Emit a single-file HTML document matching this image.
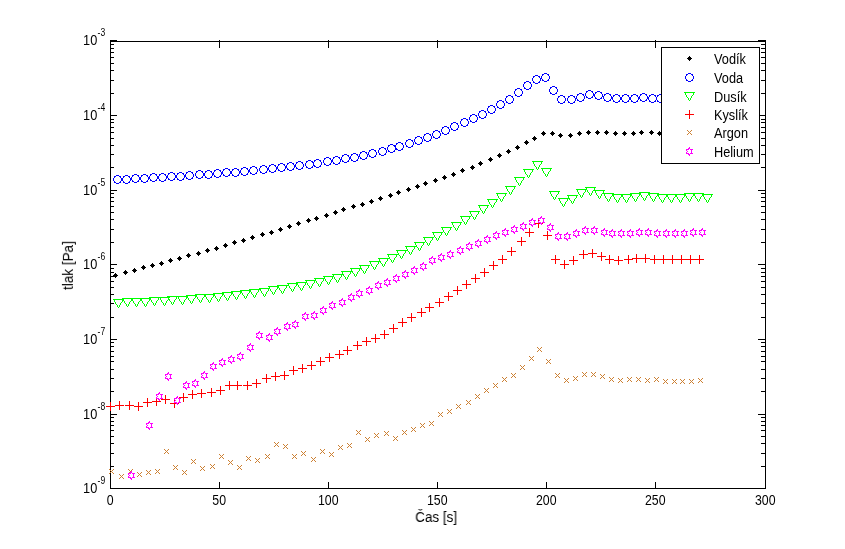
<!DOCTYPE html>
<html><head><meta charset="utf-8"><title>tlak</title>
<style>
html,body{margin:0;padding:0;background:#fff;}
body{width:845px;height:549px;overflow:hidden;}
svg{display:block;will-change:transform;}
text{font-family:"Liberation Sans",sans-serif;fill:#000;}
.t{font-size:14.5px;}
.e{font-size:10px;}
</style></head><body>
<svg width="845" height="549" viewBox="0 0 845 549">
<defs>
<path id="mk" d="M0 -2h1v1h-1zM-1 -1h3v1h-3zM-2 0h5v1h-5zM-1 1h3v1h-3zM0 2h1v1h-1z" fill="#000000"/>
<path id="mb" d="M-1 -4h3v1h-3zM-3 -3h2v1h-2zM2 -3h2v1h-2zM-3 -2h1v1h-1zM3 -2h1v1h-1zM-4 -1h1v1h-1zM4 -1h1v1h-1zM-4 0h1v1h-1zM4 0h1v1h-1zM-4 1h1v1h-1zM4 1h1v1h-1zM-3 2h1v1h-1zM3 2h1v1h-1zM-3 3h2v1h-2zM2 3h2v1h-2zM-1 4h3v1h-3z" fill="#0000ff"/>
<path id="mg" d="M-5 -4h11v1h-11zM-4 -3h1v1h-1zM4 -3h1v1h-1zM-4 -2h1v1h-1zM4 -2h1v1h-1zM-3 -1h1v1h-1zM3 -1h1v1h-1zM-3 0h1v1h-1zM2 0h1v1h-1zM-2 1h1v1h-1zM2 1h1v1h-1zM-1 2h1v1h-1zM1 2h1v1h-1zM-1 3h1v1h-1zM1 3h1v1h-1zM0 4h1v1h-1z" fill="#00ff00"/>
<path id="mr" d="M0 -4h1v1h-1zM0 -3h1v1h-1zM0 -2h1v1h-1zM0 -1h1v1h-1zM-4 0h9v1h-9zM0 1h1v1h-1zM0 2h1v1h-1zM0 3h1v1h-1zM0 4h1v1h-1z" fill="#ff0000"/>
<path id="ma" d="M-2 -2h1v1h-1zM2 -2h1v1h-1zM-1 -1h1v1h-1zM1 -1h1v1h-1zM0 0h1v1h-1zM-1 1h1v1h-1zM1 1h1v1h-1zM-2 2h1v1h-1zM2 2h1v1h-1z" fill="#cc8033"/>
<path id="mm" d="M0 -4h1v1h-1zM-1 -3h2v1h-2zM-3 -2h3v1h-3zM1 -2h3v1h-3zM-3 -1h1v1h-1zM2 -1h1v1h-1zM-2 0h1v1h-1zM2 0h1v1h-1zM-3 1h1v1h-1zM2 1h1v1h-1zM-3 2h3v1h-3zM1 2h3v1h-3zM-1 3h2v1h-2zM0 4h1v1h-1z" fill="#ff00ff"/>
</defs>
<rect x="0" y="0" width="845" height="549" fill="#fff"/>
<g fill="#000" shape-rendering="crispEdges"><rect x="110" y="41" width="656" height="1"/><rect x="110" y="488" width="656" height="1"/><rect x="110" y="41" width="1" height="448"/><rect x="765" y="41" width="1" height="448"/><rect x="110" y="482" width="1" height="6"/><rect x="110" y="40" width="1" height="8"/><rect x="219" y="482" width="1" height="6"/><rect x="219" y="40" width="1" height="8"/><rect x="328" y="482" width="1" height="6"/><rect x="328" y="40" width="1" height="8"/><rect x="437" y="482" width="1" height="6"/><rect x="437" y="40" width="1" height="8"/><rect x="546" y="482" width="1" height="6"/><rect x="546" y="40" width="1" height="8"/><rect x="655" y="482" width="1" height="6"/><rect x="655" y="40" width="1" height="8"/><rect x="765" y="482" width="1" height="6"/><rect x="765" y="40" width="1" height="8"/><rect x="110" y="40" width="7" height="1"/><rect x="758" y="40" width="8" height="1"/><rect x="110" y="93" width="4" height="1"/><rect x="761" y="93" width="5" height="1"/><rect x="110" y="80" width="4" height="1"/><rect x="761" y="80" width="5" height="1"/><rect x="110" y="70" width="4" height="1"/><rect x="761" y="70" width="5" height="1"/><rect x="110" y="63" width="4" height="1"/><rect x="761" y="63" width="5" height="1"/><rect x="110" y="57" width="4" height="1"/><rect x="761" y="57" width="5" height="1"/><rect x="110" y="52" width="4" height="1"/><rect x="761" y="52" width="5" height="1"/><rect x="110" y="48" width="4" height="1"/><rect x="761" y="48" width="5" height="1"/><rect x="110" y="44" width="4" height="1"/><rect x="761" y="44" width="5" height="1"/><rect x="110" y="115" width="7" height="1"/><rect x="758" y="115" width="8" height="1"/><rect x="110" y="167" width="4" height="1"/><rect x="761" y="167" width="5" height="1"/><rect x="110" y="154" width="4" height="1"/><rect x="761" y="154" width="5" height="1"/><rect x="110" y="145" width="4" height="1"/><rect x="761" y="145" width="5" height="1"/><rect x="110" y="138" width="4" height="1"/><rect x="761" y="138" width="5" height="1"/><rect x="110" y="132" width="4" height="1"/><rect x="761" y="132" width="5" height="1"/><rect x="110" y="127" width="4" height="1"/><rect x="761" y="127" width="5" height="1"/><rect x="110" y="122" width="4" height="1"/><rect x="761" y="122" width="5" height="1"/><rect x="110" y="119" width="4" height="1"/><rect x="761" y="119" width="5" height="1"/><rect x="110" y="190" width="7" height="1"/><rect x="758" y="190" width="8" height="1"/><rect x="110" y="242" width="4" height="1"/><rect x="761" y="242" width="5" height="1"/><rect x="110" y="229" width="4" height="1"/><rect x="761" y="229" width="5" height="1"/><rect x="110" y="219" width="4" height="1"/><rect x="761" y="219" width="5" height="1"/><rect x="110" y="212" width="4" height="1"/><rect x="761" y="212" width="5" height="1"/><rect x="110" y="206" width="4" height="1"/><rect x="761" y="206" width="5" height="1"/><rect x="110" y="201" width="4" height="1"/><rect x="761" y="201" width="5" height="1"/><rect x="110" y="197" width="4" height="1"/><rect x="761" y="197" width="5" height="1"/><rect x="110" y="193" width="4" height="1"/><rect x="761" y="193" width="5" height="1"/><rect x="110" y="264" width="7" height="1"/><rect x="758" y="264" width="8" height="1"/><rect x="110" y="317" width="4" height="1"/><rect x="761" y="317" width="5" height="1"/><rect x="110" y="303" width="4" height="1"/><rect x="761" y="303" width="5" height="1"/><rect x="110" y="294" width="4" height="1"/><rect x="761" y="294" width="5" height="1"/><rect x="110" y="287" width="4" height="1"/><rect x="761" y="287" width="5" height="1"/><rect x="110" y="281" width="4" height="1"/><rect x="761" y="281" width="5" height="1"/><rect x="110" y="276" width="4" height="1"/><rect x="761" y="276" width="5" height="1"/><rect x="110" y="272" width="4" height="1"/><rect x="761" y="272" width="5" height="1"/><rect x="110" y="268" width="4" height="1"/><rect x="761" y="268" width="5" height="1"/><rect x="110" y="339" width="7" height="1"/><rect x="758" y="339" width="8" height="1"/><rect x="110" y="391" width="4" height="1"/><rect x="761" y="391" width="5" height="1"/><rect x="110" y="378" width="4" height="1"/><rect x="761" y="378" width="5" height="1"/><rect x="110" y="369" width="4" height="1"/><rect x="761" y="369" width="5" height="1"/><rect x="110" y="361" width="4" height="1"/><rect x="761" y="361" width="5" height="1"/><rect x="110" y="356" width="4" height="1"/><rect x="761" y="356" width="5" height="1"/><rect x="110" y="351" width="4" height="1"/><rect x="761" y="351" width="5" height="1"/><rect x="110" y="346" width="4" height="1"/><rect x="761" y="346" width="5" height="1"/><rect x="110" y="342" width="4" height="1"/><rect x="761" y="342" width="5" height="1"/><rect x="110" y="414" width="7" height="1"/><rect x="758" y="414" width="8" height="1"/><rect x="110" y="466" width="4" height="1"/><rect x="761" y="466" width="5" height="1"/><rect x="110" y="453" width="4" height="1"/><rect x="761" y="453" width="5" height="1"/><rect x="110" y="443" width="4" height="1"/><rect x="761" y="443" width="5" height="1"/><rect x="110" y="436" width="4" height="1"/><rect x="761" y="436" width="5" height="1"/><rect x="110" y="430" width="4" height="1"/><rect x="761" y="430" width="5" height="1"/><rect x="110" y="425" width="4" height="1"/><rect x="761" y="425" width="5" height="1"/><rect x="110" y="421" width="4" height="1"/><rect x="761" y="421" width="5" height="1"/><rect x="110" y="417" width="4" height="1"/><rect x="761" y="417" width="5" height="1"/><rect x="110" y="488" width="7" height="1"/><rect x="758" y="488" width="8" height="1"/></g>
<g shape-rendering="crispEdges"><use href="#mk" x="115" y="275"/><use href="#mk" x="125" y="272"/><use href="#mk" x="134" y="270"/><use href="#mk" x="143" y="267"/><use href="#mk" x="152" y="265"/><use href="#mk" x="161" y="263"/><use href="#mk" x="170" y="260"/><use href="#mk" x="179" y="258"/><use href="#mk" x="188" y="255"/><use href="#mk" x="198" y="253"/><use href="#mk" x="207" y="250"/><use href="#mk" x="216" y="248"/><use href="#mk" x="225" y="245"/><use href="#mk" x="234" y="242"/><use href="#mk" x="243" y="240"/><use href="#mk" x="252" y="237"/><use href="#mk" x="262" y="234"/><use href="#mk" x="271" y="232"/><use href="#mk" x="280" y="229"/><use href="#mk" x="289" y="226"/><use href="#mk" x="298" y="223"/><use href="#mk" x="308" y="220"/><use href="#mk" x="316" y="218"/><use href="#mk" x="326" y="215"/><use href="#mk" x="335" y="212"/><use href="#mk" x="343" y="209"/><use href="#mk" x="353" y="206"/><use href="#mk" x="362" y="204"/><use href="#mk" x="371" y="201"/><use href="#mk" x="380" y="198"/><use href="#mk" x="390" y="195"/><use href="#mk" x="398" y="192"/><use href="#mk" x="408" y="189"/><use href="#mk" x="417" y="186"/><use href="#mk" x="425" y="183"/><use href="#mk" x="435" y="180"/><use href="#mk" x="444" y="177"/><use href="#mk" x="453" y="174"/><use href="#mk" x="462" y="170"/><use href="#mk" x="472" y="167"/><use href="#mk" x="480" y="163"/><use href="#mk" x="490" y="159"/><use href="#mk" x="499" y="155"/><use href="#mk" x="508" y="151"/><use href="#mk" x="517" y="147"/><use href="#mk" x="526" y="142"/><use href="#mk" x="534" y="138"/><use href="#mk" x="543" y="133"/><use href="#mk" x="552" y="133"/><use href="#mk" x="560" y="135"/><use href="#mk" x="570" y="135"/><use href="#mk" x="579" y="133"/><use href="#mk" x="588" y="132"/><use href="#mk" x="597" y="132"/><use href="#mk" x="606" y="132"/><use href="#mk" x="615" y="133"/><use href="#mk" x="624" y="133"/><use href="#mk" x="633" y="133"/><use href="#mk" x="641" y="132"/><use href="#mk" x="651" y="132"/><use href="#mk" x="659" y="133"/><use href="#mk" x="668" y="133"/><use href="#mk" x="678" y="133"/><use href="#mk" x="687" y="133"/><use href="#mk" x="696" y="133"/><use href="#mk" x="705" y="133"/></g>
<g shape-rendering="crispEdges"><use href="#mb" x="117" y="179"/><use href="#mb" x="126" y="179"/><use href="#mb" x="135" y="178"/><use href="#mb" x="144" y="178"/><use href="#mb" x="153" y="177"/><use href="#mb" x="162" y="177"/><use href="#mb" x="171" y="176"/><use href="#mb" x="180" y="176"/><use href="#mb" x="189" y="175"/><use href="#mb" x="199" y="174"/><use href="#mb" x="208" y="174"/><use href="#mb" x="217" y="173"/><use href="#mb" x="226" y="172"/><use href="#mb" x="235" y="172"/><use href="#mb" x="244" y="171"/><use href="#mb" x="253" y="170"/><use href="#mb" x="263" y="169"/><use href="#mb" x="272" y="168"/><use href="#mb" x="281" y="167"/><use href="#mb" x="290" y="166"/><use href="#mb" x="299" y="165"/><use href="#mb" x="309" y="164"/><use href="#mb" x="317" y="163"/><use href="#mb" x="327" y="161"/><use href="#mb" x="336" y="160"/><use href="#mb" x="345" y="158"/><use href="#mb" x="354" y="157"/><use href="#mb" x="363" y="155"/><use href="#mb" x="372" y="153"/><use href="#mb" x="382" y="151"/><use href="#mb" x="391" y="148"/><use href="#mb" x="399" y="146"/><use href="#mb" x="409" y="143"/><use href="#mb" x="418" y="140"/><use href="#mb" x="427" y="137"/><use href="#mb" x="436" y="134"/><use href="#mb" x="445" y="130"/><use href="#mb" x="454" y="126"/><use href="#mb" x="464" y="122"/><use href="#mb" x="473" y="118"/><use href="#mb" x="482" y="114"/><use href="#mb" x="491" y="109"/><use href="#mb" x="500" y="104"/><use href="#mb" x="509" y="99"/><use href="#mb" x="518" y="92"/><use href="#mb" x="527" y="85"/><use href="#mb" x="536" y="79"/><use href="#mb" x="545" y="77"/><use href="#mb" x="553" y="90"/><use href="#mb" x="561" y="99"/><use href="#mb" x="571" y="99"/><use href="#mb" x="580" y="97"/><use href="#mb" x="589" y="94"/><use href="#mb" x="598" y="95"/><use href="#mb" x="607" y="97"/><use href="#mb" x="616" y="98"/><use href="#mb" x="625" y="98"/><use href="#mb" x="634" y="98"/><use href="#mb" x="643" y="97"/><use href="#mb" x="652" y="98"/><use href="#mb" x="660" y="98"/><use href="#mb" x="669" y="98"/><use href="#mb" x="678" y="98"/><use href="#mb" x="687" y="98"/><use href="#mb" x="696" y="98"/><use href="#mb" x="705" y="98"/></g>
<g shape-rendering="crispEdges"><use href="#mg" x="118" y="303"/><use href="#mg" x="127" y="302"/><use href="#mg" x="136" y="302"/><use href="#mg" x="145" y="302"/><use href="#mg" x="154" y="301"/><use href="#mg" x="164" y="301"/><use href="#mg" x="172" y="300"/><use href="#mg" x="182" y="300"/><use href="#mg" x="191" y="299"/><use href="#mg" x="200" y="298"/><use href="#mg" x="209" y="298"/><use href="#mg" x="218" y="297"/><use href="#mg" x="227" y="296"/><use href="#mg" x="236" y="295"/><use href="#mg" x="245" y="294"/><use href="#mg" x="254" y="293"/><use href="#mg" x="264" y="292"/><use href="#mg" x="273" y="290"/><use href="#mg" x="282" y="289"/><use href="#mg" x="292" y="287"/><use href="#mg" x="301" y="286"/><use href="#mg" x="310" y="284"/><use href="#mg" x="319" y="282"/><use href="#mg" x="328" y="280"/><use href="#mg" x="337" y="278"/><use href="#mg" x="346" y="275"/><use href="#mg" x="355" y="272"/><use href="#mg" x="364" y="269"/><use href="#mg" x="374" y="265"/><use href="#mg" x="383" y="262"/><use href="#mg" x="392" y="258"/><use href="#mg" x="401" y="254"/><use href="#mg" x="410" y="250"/><use href="#mg" x="419" y="246"/><use href="#mg" x="428" y="241"/><use href="#mg" x="437" y="236"/><use href="#mg" x="446" y="231"/><use href="#mg" x="456" y="226"/><use href="#mg" x="465" y="220"/><use href="#mg" x="474" y="215"/><use href="#mg" x="483" y="209"/><use href="#mg" x="492" y="203"/><use href="#mg" x="501" y="197"/><use href="#mg" x="510" y="190"/><use href="#mg" x="519" y="181"/><use href="#mg" x="528" y="173"/><use href="#mg" x="537" y="165"/><use href="#mg" x="546" y="172"/><use href="#mg" x="554" y="195"/><use href="#mg" x="563" y="202"/><use href="#mg" x="572" y="199"/><use href="#mg" x="581" y="193"/><use href="#mg" x="590" y="191"/><use href="#mg" x="599" y="194"/><use href="#mg" x="608" y="197"/><use href="#mg" x="617" y="198"/><use href="#mg" x="626" y="198"/><use href="#mg" x="635" y="197"/><use href="#mg" x="644" y="196"/><use href="#mg" x="653" y="197"/><use href="#mg" x="662" y="198"/><use href="#mg" x="671" y="198"/><use href="#mg" x="680" y="198"/><use href="#mg" x="689" y="197"/><use href="#mg" x="698" y="197"/><use href="#mg" x="707" y="198"/></g>
<g shape-rendering="crispEdges"><use href="#mr" x="110" y="406"/><use href="#mr" x="119" y="405"/><use href="#mr" x="129" y="405"/><use href="#mr" x="138" y="406"/><use href="#mr" x="147" y="402"/><use href="#mr" x="156" y="401"/><use href="#mr" x="165" y="399"/><use href="#mr" x="174" y="403"/><use href="#mr" x="183" y="397"/><use href="#mr" x="192" y="394"/><use href="#mr" x="201" y="393"/><use href="#mr" x="211" y="392"/><use href="#mr" x="220" y="390"/><use href="#mr" x="229" y="385"/><use href="#mr" x="237" y="385"/><use href="#mr" x="247" y="385"/><use href="#mr" x="256" y="383"/><use href="#mr" x="266" y="378"/><use href="#mr" x="275" y="376"/><use href="#mr" x="284" y="375"/><use href="#mr" x="293" y="370"/><use href="#mr" x="302" y="368"/><use href="#mr" x="311" y="365"/><use href="#mr" x="320" y="361"/><use href="#mr" x="329" y="357"/><use href="#mr" x="339" y="354"/><use href="#mr" x="347" y="350"/><use href="#mr" x="357" y="345"/><use href="#mr" x="366" y="341"/><use href="#mr" x="375" y="338"/><use href="#mr" x="384" y="334"/><use href="#mr" x="393" y="328"/><use href="#mr" x="402" y="322"/><use href="#mr" x="411" y="317"/><use href="#mr" x="421" y="312"/><use href="#mr" x="429" y="307"/><use href="#mr" x="439" y="302"/><use href="#mr" x="448" y="296"/><use href="#mr" x="457" y="290"/><use href="#mr" x="466" y="284"/><use href="#mr" x="475" y="278"/><use href="#mr" x="484" y="272"/><use href="#mr" x="493" y="265"/><use href="#mr" x="502" y="259"/><use href="#mr" x="511" y="251"/><use href="#mr" x="521" y="241"/><use href="#mr" x="529" y="232"/><use href="#mr" x="538" y="223"/><use href="#mr" x="547" y="235"/><use href="#mr" x="555" y="259"/><use href="#mr" x="564" y="264"/><use href="#mr" x="573" y="260"/><use href="#mr" x="583" y="254"/><use href="#mr" x="592" y="253"/><use href="#mr" x="601" y="256"/><use href="#mr" x="609" y="259"/><use href="#mr" x="618" y="260"/><use href="#mr" x="628" y="259"/><use href="#mr" x="636" y="258"/><use href="#mr" x="645" y="258"/><use href="#mr" x="654" y="259"/><use href="#mr" x="663" y="259"/><use href="#mr" x="672" y="259"/><use href="#mr" x="681" y="259"/><use href="#mr" x="690" y="259"/><use href="#mr" x="699" y="259"/></g>
<g shape-rendering="crispEdges"><use href="#ma" x="111" y="471"/><use href="#ma" x="121" y="476"/><use href="#ma" x="130" y="471"/><use href="#ma" x="139" y="474"/><use href="#ma" x="148" y="472"/><use href="#ma" x="157" y="471"/><use href="#ma" x="166" y="451"/><use href="#ma" x="175" y="467"/><use href="#ma" x="184" y="472"/><use href="#ma" x="193" y="461"/><use href="#ma" x="202" y="468"/><use href="#ma" x="212" y="466"/><use href="#ma" x="221" y="456"/><use href="#ma" x="230" y="462"/><use href="#ma" x="239" y="467"/><use href="#ma" x="248" y="458"/><use href="#ma" x="257" y="460"/><use href="#ma" x="267" y="456"/><use href="#ma" x="276" y="444"/><use href="#ma" x="285" y="446"/><use href="#ma" x="294" y="456"/><use href="#ma" x="303" y="453"/><use href="#ma" x="313" y="459"/><use href="#ma" x="322" y="451"/><use href="#ma" x="331" y="454"/><use href="#ma" x="340" y="447"/><use href="#ma" x="349" y="445"/><use href="#ma" x="358" y="432"/><use href="#ma" x="367" y="439"/><use href="#ma" x="376" y="435"/><use href="#ma" x="386" y="433"/><use href="#ma" x="395" y="438"/><use href="#ma" x="404" y="432"/><use href="#ma" x="413" y="429"/><use href="#ma" x="422" y="425"/><use href="#ma" x="431" y="423"/><use href="#ma" x="440" y="414"/><use href="#ma" x="449" y="411"/><use href="#ma" x="458" y="406"/><use href="#ma" x="468" y="402"/><use href="#ma" x="477" y="396"/><use href="#ma" x="486" y="390"/><use href="#ma" x="495" y="385"/><use href="#ma" x="504" y="379"/><use href="#ma" x="513" y="375"/><use href="#ma" x="522" y="367"/><use href="#ma" x="531" y="358"/><use href="#ma" x="539" y="349"/><use href="#ma" x="548" y="361"/><use href="#ma" x="557" y="375"/><use href="#ma" x="566" y="380"/><use href="#ma" x="575" y="378"/><use href="#ma" x="584" y="374"/><use href="#ma" x="593" y="374"/><use href="#ma" x="602" y="376"/><use href="#ma" x="611" y="379"/><use href="#ma" x="620" y="380"/><use href="#ma" x="629" y="379"/><use href="#ma" x="638" y="379"/><use href="#ma" x="647" y="380"/><use href="#ma" x="656" y="379"/><use href="#ma" x="665" y="381"/><use href="#ma" x="674" y="381"/><use href="#ma" x="682" y="381"/><use href="#ma" x="691" y="381"/><use href="#ma" x="700" y="380"/></g>
<g shape-rendering="crispEdges"><use href="#mm" x="131" y="475"/><use href="#mm" x="149" y="425"/><use href="#mm" x="159" y="396"/><use href="#mm" x="168" y="376"/><use href="#mm" x="177" y="400"/><use href="#mm" x="186" y="385"/><use href="#mm" x="195" y="383"/><use href="#mm" x="204" y="375"/><use href="#mm" x="213" y="366"/><use href="#mm" x="222" y="362"/><use href="#mm" x="231" y="359"/><use href="#mm" x="240" y="356"/><use href="#mm" x="250" y="347"/><use href="#mm" x="259" y="335"/><use href="#mm" x="269" y="337"/><use href="#mm" x="277" y="331"/><use href="#mm" x="287" y="326"/><use href="#mm" x="295" y="324"/><use href="#mm" x="305" y="316"/><use href="#mm" x="314" y="315"/><use href="#mm" x="323" y="310"/><use href="#mm" x="332" y="305"/><use href="#mm" x="342" y="302"/><use href="#mm" x="351" y="297"/><use href="#mm" x="359" y="293"/><use href="#mm" x="369" y="290"/><use href="#mm" x="378" y="285"/><use href="#mm" x="387" y="282"/><use href="#mm" x="396" y="278"/><use href="#mm" x="405" y="274"/><use href="#mm" x="414" y="270"/><use href="#mm" x="423" y="266"/><use href="#mm" x="432" y="260"/><use href="#mm" x="441" y="257"/><use href="#mm" x="450" y="254"/><use href="#mm" x="460" y="250"/><use href="#mm" x="469" y="246"/><use href="#mm" x="478" y="243"/><use href="#mm" x="487" y="239"/><use href="#mm" x="496" y="235"/><use href="#mm" x="505" y="232"/><use href="#mm" x="514" y="229"/><use href="#mm" x="523" y="226"/><use href="#mm" x="532" y="222"/><use href="#mm" x="541" y="220"/><use href="#mm" x="550" y="227"/><use href="#mm" x="558" y="236"/><use href="#mm" x="567" y="236"/><use href="#mm" x="576" y="233"/><use href="#mm" x="585" y="230"/><use href="#mm" x="594" y="230"/><use href="#mm" x="604" y="232"/><use href="#mm" x="612" y="233"/><use href="#mm" x="621" y="233"/><use href="#mm" x="630" y="233"/><use href="#mm" x="639" y="232"/><use href="#mm" x="648" y="232"/><use href="#mm" x="657" y="233"/><use href="#mm" x="666" y="233"/><use href="#mm" x="675" y="233"/><use href="#mm" x="684" y="233"/><use href="#mm" x="693" y="232"/><use href="#mm" x="702" y="232"/></g>
<g opacity="0.999">
<text class="t" transform="translate(110.2,505.0) scale(0.85,1)" text-anchor="middle">0</text>
<text class="t" transform="translate(219.2,505.0) scale(0.85,1)" text-anchor="middle">50</text>
<text class="t" transform="translate(328.2,505.0) scale(0.85,1)" text-anchor="middle">100</text>
<text class="t" transform="translate(437.2,505.0) scale(0.85,1)" text-anchor="middle">150</text>
<text class="t" transform="translate(546.2,505.0) scale(0.85,1)" text-anchor="middle">200</text>
<text class="t" transform="translate(655.2,505.0) scale(0.85,1)" text-anchor="middle">250</text>
<text class="t" transform="translate(765.2,505.0) scale(0.85,1)" text-anchor="middle">300</text>
<text class="t" transform="translate(97.3,45.0) scale(0.88,1)" text-anchor="end">10</text>
<text class="e" transform="translate(97.6,36.0) scale(0.86,1)" text-anchor="start">-3</text>
<text class="t" transform="translate(97.3,120.0) scale(0.88,1)" text-anchor="end">10</text>
<text class="e" transform="translate(97.6,111.0) scale(0.86,1)" text-anchor="start">-4</text>
<text class="t" transform="translate(97.3,195.0) scale(0.88,1)" text-anchor="end">10</text>
<text class="e" transform="translate(97.6,186.0) scale(0.86,1)" text-anchor="start">-5</text>
<text class="t" transform="translate(97.3,269.0) scale(0.88,1)" text-anchor="end">10</text>
<text class="e" transform="translate(97.6,260.0) scale(0.86,1)" text-anchor="start">-6</text>
<text class="t" transform="translate(97.3,344.0) scale(0.88,1)" text-anchor="end">10</text>
<text class="e" transform="translate(97.6,335.0) scale(0.86,1)" text-anchor="start">-7</text>
<text class="t" transform="translate(97.3,419.0) scale(0.88,1)" text-anchor="end">10</text>
<text class="e" transform="translate(97.6,410.0) scale(0.86,1)" text-anchor="start">-8</text>
<text class="t" transform="translate(97.3,493.0) scale(0.88,1)" text-anchor="end">10</text>
<text class="e" transform="translate(97.6,484.0) scale(0.86,1)" text-anchor="start">-9</text>
<text class="t" transform="translate(436.1,522.0) scale(0.93,1)" text-anchor="middle">Čas [s]</text>
<text class="t" transform="translate(72.9,265.5) rotate(-90) scale(0.93,1)" text-anchor="middle">tlak [Pa]</text>
</g>
<g shape-rendering="crispEdges">
<rect x="661" y="47" width="99" height="117" fill="#fff"/>
<g fill="#000"><rect x="661" y="47" width="99" height="1"/><rect x="661" y="163" width="99" height="1"/><rect x="661" y="47" width="1" height="117"/><rect x="759" y="47" width="1" height="117"/></g>
<use href="#mk" x="689" y="58"/>
<use href="#mb" x="689" y="77"/>
<use href="#mg" x="689" y="96"/>
<use href="#mr" x="689" y="114"/>
<use href="#ma" x="689" y="132"/>
<use href="#mm" x="689" y="151"/>
</g>
<g opacity="0.999">
<text class="t" transform="translate(714.0,63.5) scale(0.88,1)" text-anchor="start">Vodík</text>
<text class="t" transform="translate(714.0,82.5) scale(0.88,1)" text-anchor="start">Voda</text>
<text class="t" transform="translate(714.0,101.5) scale(0.88,1)" text-anchor="start">Dusík</text>
<text class="t" transform="translate(714.0,119.5) scale(0.88,1)" text-anchor="start">Kyslík</text>
<text class="t" transform="translate(714.0,137.5) scale(0.88,1)" text-anchor="start">Argon</text>
<text class="t" transform="translate(714.0,156.5) scale(0.88,1)" text-anchor="start">Helium</text>
</g>
</svg>
</body></html>
